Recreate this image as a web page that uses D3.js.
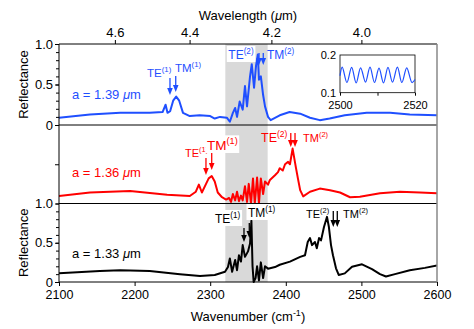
<!DOCTYPE html>
<html>
<head>
<meta charset="utf-8">
<script src="https://cdn.jsdelivr.net/npm/d3@7"></script>
<style>
  body { margin: 0; background: #fff; }
  svg { display: block; font-family: "Liberation Sans", Arial, Helvetica, sans-serif; }
</style>
</head>
<body>
<svg id="chart" width="474" height="329"></svg>
<script>
// spectra: [wavenumber (cm-1), reflectance]
var blueSeries = [[2100,0.09],[2141,0.13],[2181,0.15],[2220,0.15],[2237,0.16],[2241,0.25],[2243.5,0.15],[2247,0.17],
  [2251,0.30],[2255,0.35],[2259,0.30],[2264,0.15],[2273,0.11],[2286,0.12],[2300,0.11],[2306,0.08],[2313,0.10],
  [2322,0.09],[2326,0.04],[2330,0.15],[2333,0.21],[2335.5,0.10],[2339,0.29],[2343,0.19],[2346,0.48],[2348.7,0.23],
  [2352.7,0.60],[2355,0.75],[2358,0.46],[2360.6,0.73],[2363,0.87],[2364.5,0.56],[2367,0.60],[2370,0.37],
  [2372.5,0.23],[2376.5,0.10],[2380,0.06],[2392,0.12],[2405,0.16],[2419,0.14],[2432,0.09],[2445,0.06],
  [2458,0.08],[2478,0.12],[2507,0.15],[2538,0.15],[2564,0.13],[2600,0.12]];

var redSeries = [[2100,0.095],[2141,0.14],[2194,0.16],[2243,0.11],[2273,0.095],[2281,0.15],[2285,0.24],[2289,0.14],
  [2294.5,0.25],[2298,0.32],[2302,0.35],[2306,0.28],[2310,0.14],[2315.6,0.08],[2321,0.05],[2325,0.07],
  [2327.5,0.02],[2330,0.12],[2333,0.04],[2335.5,0.15],[2338,0.03],[2340.7,0.10],[2343,0.04],[2346,0.22],
  [2348.7,0.02],[2351,0.25],[2354,0.0],[2356.6,0.32],[2359,0.0],[2362,0.33],[2364.5,0.0],[2367,0.32],[2370,0.12],
  [2372.5,0.28],[2376.5,0.24],[2379,0.30],[2385.7,0.36],[2389.7,0.40],[2392,0.45],[2396,0.42],[2399,0.50],
  [2403,0.53],[2405.5,0.50],[2409,0.70],[2413.5,0.45],[2416,0.32],[2419,0.17],[2423,0.09],[2432,0.15],
  [2445,0.19],[2458.5,0.17],[2471.7,0.14],[2485,0.08],[2498,0.087],[2524.6,0.13],[2551,0.15],[2577.5,0.14],[2600,0.13]];

var blackSeries = [[2100,0.11],[2154,0.14],[2181,0.15],[2220,0.14],[2260,0.10],[2286.5,0.077],[2306,0.09],
  [2319.6,0.13],[2323.5,0.19],[2326,0.30],[2329,0.13],[2333,0.28],[2335.5,0.15],[2338,0.34],[2340.7,0.26],
  [2343,0.47],[2346,0.32],[2350,0.39],[2352.7,0.49],[2354.5,0.78],[2356,0.2],[2357.5,0.0],[2360,0.05],[2362,0.2],
  [2364.5,0.02],[2367,0.25],[2370,0.05],[2372.5,0.2],[2376.5,0.17],[2385.7,0.19],[2392,0.22],[2405.5,0.26],
  [2419,0.32],[2425.4,0.34],[2429,0.51],[2432,0.56],[2434.7,0.47],[2438.6,0.51],[2441,0.43],[2444,0.56],
  [2446.6,0.53],[2450.5,0.70],[2454.5,0.83],[2457,0.70],[2459.8,0.47],[2462.4,0.34],[2466.4,0.175],[2470,0.09],
  [2478,0.11],[2487.6,0.195],[2500.8,0.225],[2514,0.165],[2524.6,0.10],[2532.5,0.07],[2544.4,0.10],
  [2564,0.15],[2584,0.18],[2600,0.21]];

// inset (zoom of the blue trace)
var insetSeries = [[2500,0.145],[2500.6,0.168],[2501.85,0.127],[2503.1,0.167],[2504.3,0.126],[2505.5,0.166],
  [2506.8,0.128],[2508,0.168],[2509.2,0.127],[2510.4,0.165],[2511.6,0.126],[2512.8,0.167],[2514,0.128],
  [2515.3,0.168],[2516.5,0.127],[2517.8,0.166],[2519.2,0.127],[2520,0.135]];

var panelLabels = ["a = 1.39 ", "a = 1.36 ", "a = 1.33 "];
var panelColors = ["#1f4fff", "#ff0000", "#000000"];
var wavelengthTicks = [4.6, 4.4, 4.2, 4.0];
var wavenumberTicks = [2100, 2200, 2300, 2400, 2500, 2600];
var gapBand = [2320, 2376];

// mode arrows [TE(1), TM(1), TE(2), TM(2)] in cm-1, per panel
var arrowsWn = [[2246.8, 2254.4, 2364.6, 2370.2],
                [2294.4, 2302, 2406.6, 2412.2],
                [2344.7, 2351.7, 2462.8, 2468.1]];

var svg = d3.select("#chart");
var W = 474, H = 329;
var left = 59, right = 437;
var panels = [{top: 44, bottom: 125}, {top: 125, bottom: 203.5}, {top: 203.5, bottom: 282}];

var x = d3.scaleLinear().domain([2100, 2600]).range([left, right]);
var ys = panels.map(function(p){ return d3.scaleLinear().domain([0, 1]).range([p.bottom, p.top]); });

svg.append("rect").attr("width", W).attr("height", H).attr("fill", "#fff");

// shaded gap region
svg.append("rect")
  .attr("x", x(gapBand[0])).attr("y", panels[0].top)
  .attr("width", x(gapBand[1]) - x(gapBand[0]))
  .attr("height", panels[2].bottom - panels[0].top)
  .attr("fill", "#d9d9d9");

svg.append("clipPath").attr("id", "plotclip").append("rect")
  .attr("x", left).attr("y", panels[0].top - 2).attr("width", right - left).attr("height", panels[2].bottom - panels[0].top + 4);

var series = [blueSeries, redSeries, blackSeries];
series.forEach(function(s, i){
  var line = d3.line().x(function(d){ return x(d[0]); }).y(function(d){ return ys[i](d[1]); });
  svg.append("path")
    .attr("d", line(s))
    .attr("fill", "none")
    .attr("stroke", panelColors[i])
    .attr("stroke-width", 2)
    .attr("stroke-linejoin", "round")
    .attr("clip-path", "url(#plotclip)");
});

// panel frame lines
[panels[0].top, panels[0].bottom, panels[1].bottom, panels[2].bottom].forEach(function(yy){
  svg.append("line").attr("x1", left).attr("x2", right).attr("y1", yy).attr("y2", yy)
    .attr("stroke", "#000").attr("stroke-width", 1);
});
svg.append("line").attr("x1", left).attr("x2", left).attr("y1", panels[0].top).attr("y2", panels[2].bottom)
  .attr("stroke", "#000").attr("stroke-width", 1);
svg.append("line").attr("x1", right).attr("x2", right).attr("y1", panels[0].top).attr("y2", panels[2].bottom)
  .attr("stroke", "#888").attr("stroke-width", 1.5);

// left axes
function fmt(d){ return d === 0 ? "0" : d.toFixed(1); }
[0, 2].forEach(function(i){
  var gMinor = svg.append("g").attr("transform", "translate(" + left + ",0)")
    .call(d3.axisLeft(ys[i]).tickValues(d3.range(0, 1.01, 0.1)).tickSize(3).tickFormat(""));
  gMinor.select(".domain").remove();
  var g = svg.append("g").attr("transform", "translate(" + left + ",0)")
    .call(d3.axisLeft(ys[i]).tickValues([0, 0.5, 1]).tickSize(4).tickPadding(2).tickFormat(fmt));
  g.select(".domain").remove();
  g.selectAll("text").attr("font-size", 13).attr("font-family", null).attr("fill", "#000");
});
var gMid = svg.append("g").attr("transform", "translate(" + left + ",0)")
  .call(d3.axisLeft(ys[1]).tickValues([0.5]).tickSize(4).tickFormat(""));
gMid.select(".domain").remove();

// bottom axis
var gb = svg.append("g").attr("transform", "translate(0," + panels[2].bottom + ")")
  .call(d3.axisBottom(x).tickValues(wavenumberTicks).tickSize(4).tickPadding(4).tickFormat(d3.format("d")));
gb.select(".domain").remove();
gb.selectAll("text").attr("font-size", 12.5).attr("font-family", null).attr("fill", "#000");

// top axis (wavelength)
var gt = svg.append("g").attr("transform", "translate(0," + panels[0].top + ")")
  .call(d3.axisTop(x).tickValues(wavelengthTicks.map(function(l){ return 1e4 / l; }))
    .tickSize(4).tickPadding(3).tickFormat(function(d){ return (1e4 / d).toFixed(1); }));
gt.select(".domain").remove();
gt.selectAll("text").attr("font-size", 13).attr("font-family", null).attr("fill", "#000");

// axis titles
var tTop = svg.append("text").attr("x", 248).attr("y", 20).attr("text-anchor", "middle").attr("font-size", 13);
tTop.append("tspan").text("Wavelength (");
tTop.append("tspan").attr("font-style", "italic").text("\u03bc");
tTop.append("tspan").text("m)");

var tBot = svg.append("text").attr("x", 248).attr("y", 321).attr("text-anchor", "middle").attr("font-size", 13);
tBot.append("tspan").text("Wavenumber (cm");
tBot.append("tspan").attr("font-size", 9).attr("dy", -5).text("-1");
tBot.append("tspan").attr("dy", 5).text(")");

[0, 2].forEach(function(i){
  var cy = (panels[i].top + panels[i].bottom) / 2;
  svg.append("text").attr("transform", "translate(28," + cy + ") rotate(-90)")
    .attr("text-anchor", "middle").attr("font-size", 13).text("Reflectance");
});

// panel labels
var labelY = [99, 176.7, 258.3];
panelLabels.forEach(function(t, i){
  var tx = svg.append("text").attr("x", 72).attr("y", labelY[i]).attr("font-size", 13).attr("fill", panelColors[i]);
  tx.append("tspan").text(t);
  tx.append("tspan").attr("font-style", "italic").text("\u03bc");
  tx.append("tspan").text("m");
});

// arrows
var arrowY = [[[78,95],[76,92],[53,65],[53,65]],
              [[158,175],[153,170],[133,147],[133,147]],
              [[228,242],[223,238],[211,227],[211,227]]];
arrowsWn.forEach(function(list, i){
  list.forEach(function(wn, j){
    var ax = x(wn), y1 = arrowY[i][j][0], y2 = arrowY[i][j][1];
    svg.append("line").attr("x1", ax).attr("x2", ax).attr("y1", y1).attr("y2", y2 - 5)
      .attr("stroke", panelColors[i]).attr("stroke-width", 1.3);
    svg.append("path").attr("d", "M" + (ax - 2.8) + "," + (y2 - 7) + "L" + (ax + 2.8) + "," + (y2 - 7) + "L" + ax + "," + y2 + "Z")
      .attr("fill", panelColors[i]);
  });
});

// mode labels with superscripts
function modeLabel(px, py, base, sup, size, color, bg){
  var g = svg.append("g");
  var t = g.append("text").attr("x", px).attr("y", py).attr("font-size", size).attr("fill", color);
  t.append("tspan").text(base);
  t.append("tspan").attr("font-size", size * 0.68).attr("dy", -size * 0.42).text(sup);
  if (bg){
    var b = t.node().getBBox();
    g.insert("rect", "text").attr("x", b.x - 1.5).attr("y", b.y - 1).attr("width", b.width + 3).attr("height", b.height + 1)
      .attr("fill", "#fff");
  }
}
modeLabel(147, 77, "TE", "(1)", 11.5, panelColors[0], false);
modeLabel(175, 72, "TM", "(1)", 11.5, panelColors[0], false);
modeLabel(228.3, 59, "TE", "(2)", 12, panelColors[0], true);
modeLabel(267, 59, "TM", "(2)", 12, panelColors[0], false);

modeLabel(185, 157, "TE", "(1)", 11, panelColors[1], false);
modeLabel(207, 150, "TM", "(1)", 13.5, panelColors[1], true);
modeLabel(261, 142, "TE", "(2)", 12.5, panelColors[1], false);
modeLabel(303, 142, "TM", "(2)", 11, panelColors[1], false);

modeLabel(215, 223, "TE", "(1)", 12, panelColors[2], true);
modeLabel(248, 217, "TM", "(1)", 12, panelColors[2], true);
modeLabel(306, 218, "TE", "(2)", 11, panelColors[2], false);
modeLabel(343, 218, "TM", "(2)", 11, panelColors[2], false);

// inset
var ix = d3.scaleLinear().domain([2500, 2520]).range([340, 415]);
var iy = d3.scaleLinear().domain([0.1, 0.2]).range([92.7, 55]);
svg.append("rect").attr("x", 340).attr("y", 55).attr("width", 75).attr("height", 37.7)
  .attr("fill", "#fff").attr("stroke", "#000").attr("stroke-width", 0.8);
svg.append("path")
  .attr("d", d3.line().curve(d3.curveCatmullRom).x(function(d){ return ix(d[0]); }).y(function(d){ return iy(d[1]); })(insetSeries))
  .attr("fill", "none").attr("stroke", panelColors[0]).attr("stroke-width", 1.2);
var gix = svg.append("g").attr("transform", "translate(0,92.7)")
  .call(d3.axisBottom(ix).tickValues([2500, 2510, 2520]).tickSize(3).tickPadding(6)
    .tickFormat(function(d){ return d === 2510 ? "" : d; }));
gix.select(".domain").remove();
gix.selectAll("text").attr("font-size", 11).attr("font-family", null).attr("fill", "#000");
var giy = svg.append("g").attr("transform", "translate(340,0)")
  .call(d3.axisLeft(iy).tickValues([0.1, 0.2]).tickSize(0).tickPadding(4).tickFormat(d3.format(".1f")));
giy.select(".domain").remove();
giy.selectAll("text").attr("font-size", 11).attr("font-family", null).attr("fill", "#000");
</script>
</body>
</html>
